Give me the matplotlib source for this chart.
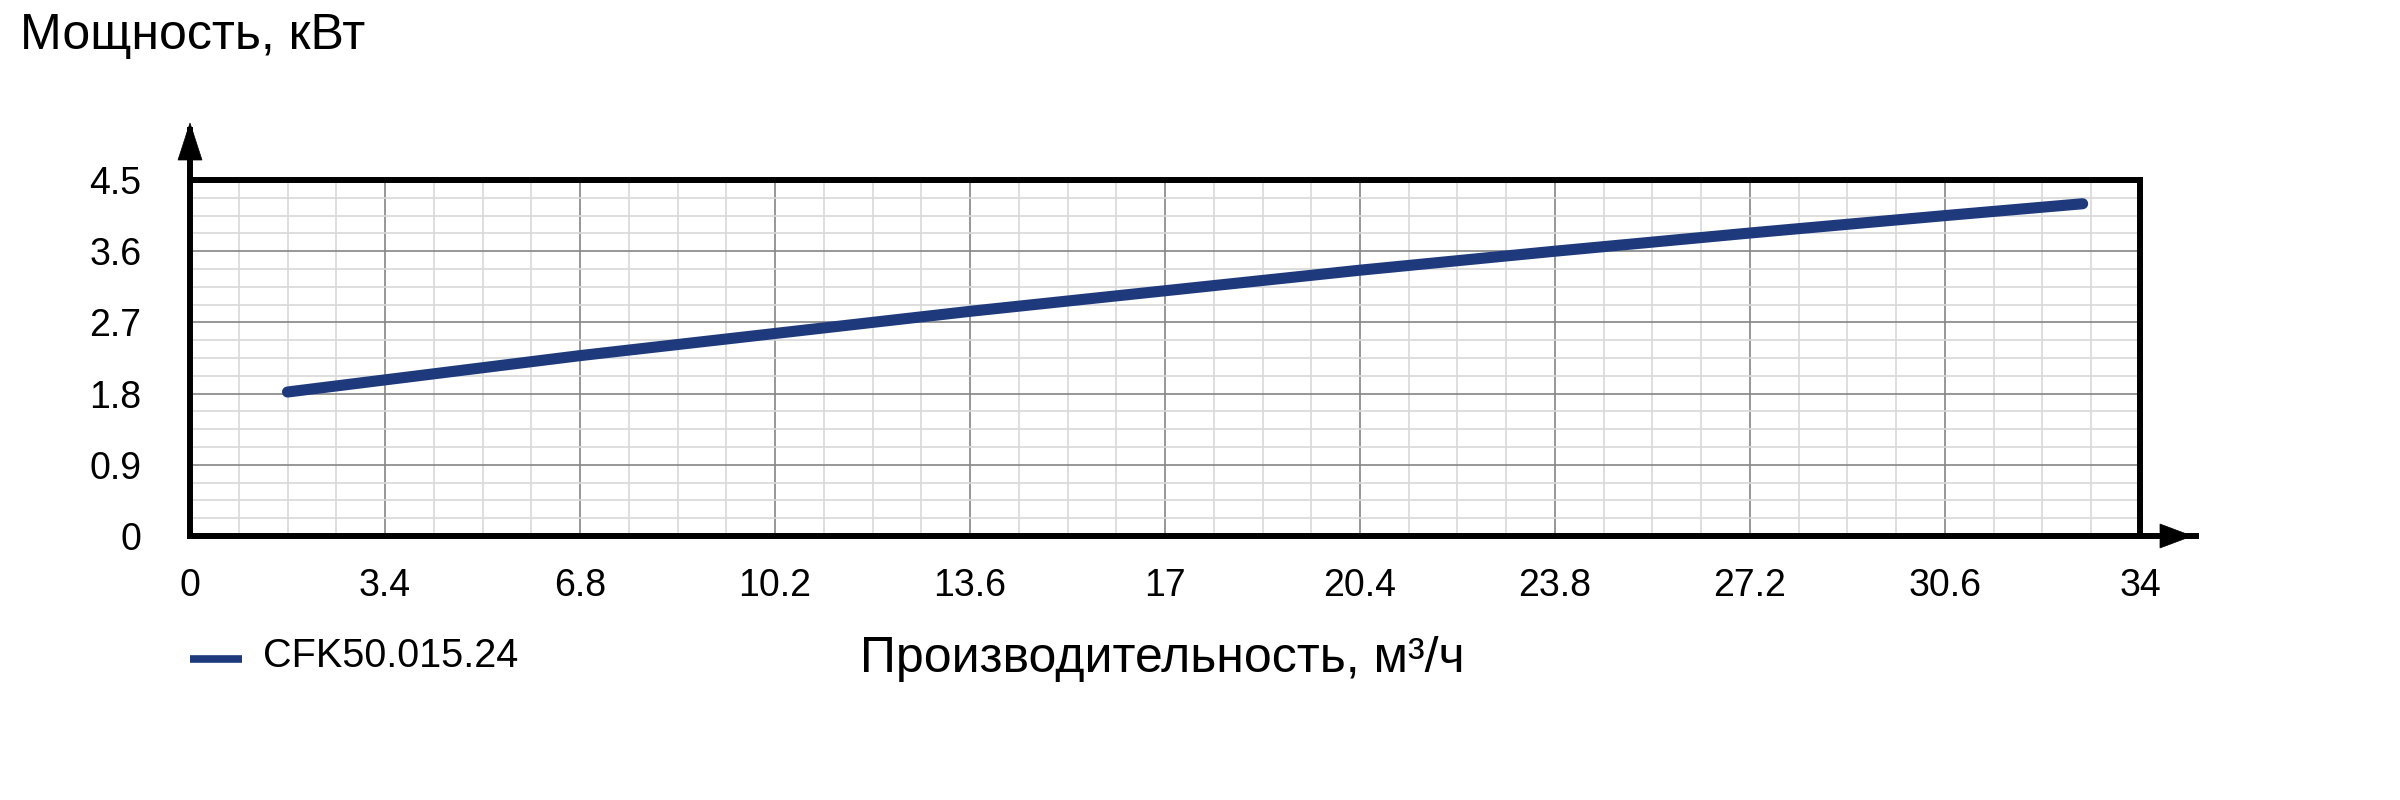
import matplotlib
matplotlib.use('Agg')
import matplotlib.pyplot as plt
from matplotlib.ticker import MultipleLocator
from matplotlib.lines import Line2D
from matplotlib.patches import Polygon

plt.rcParams['font.family'] = ['Liberation Sans', 'DejaVu Sans']

# data
flow = [1.7, 6.8, 10.2, 13.6, 17.0, 20.4, 23.8, 27.2, 30.6, 33.0]
power = [1.82, 2.28, 2.56, 2.84, 3.10, 3.36, 3.60, 3.83, 4.05, 4.20]
series_name = 'CFK50.015.24'

x_ticks = [0, 3.4, 6.8, 10.2, 13.6, 17, 20.4, 23.8, 27.2, 30.6, 34]
x_labels = ['0', '3.4', '6.8', '10.2', '13.6', '17', '20.4', '23.8', '27.2', '30.6', '34']
y_ticks = [0, 0.9, 1.8, 2.7, 3.6, 4.5]
y_labels = ['0', '0.9', '1.8', '2.7', '3.6', '4.5']

line_color = '#1f3a7c'
spine_w = 4.3
W, H = 2400, 800

fig = plt.figure(figsize=(24, 8), dpi=100)
ax = fig.add_axes([190 / W, 264 / H, 1950 / W, 356 / H])

ax.plot(flow, power, color=line_color, lw=8, solid_capstyle='round', zorder=5)

ax.set_xlim(0, 34)
ax.set_ylim(0, 4.5)
ax.set_xticks(x_ticks)
ax.set_xticklabels(x_labels)
ax.set_yticks(y_ticks)
ax.set_yticklabels(y_labels)
ax.xaxis.set_minor_locator(MultipleLocator(0.85))
ax.yaxis.set_minor_locator(MultipleLocator(0.225))
ax.tick_params(which='both', length=0)
ax.tick_params(axis='x', pad=23, labelsize=27)
ax.tick_params(axis='y', pad=35, labelsize=27)

ax.grid(which='major', color='#858585', lw=1.2)
ax.grid(which='minor', color='#d8d8d8', lw=1.2)
ax.set_axisbelow(True)

for s in ax.spines.values():
    s.set_linewidth(spine_w)
    s.set_color('black')

# axis arrows (figure pixel coordinates, origin top-left)
def px(x, y):
    return (x / W, 1 - y / H)

fig.add_artist(Line2D(*zip(px(190, 180), px(190, 130)), color='black', lw=spine_w))
fig.add_artist(Polygon([px(178, 160), px(202, 160), px(190, 123)], closed=True,
                       facecolor='black', edgecolor='black', lw=0.5))
fig.add_artist(Line2D(*zip(px(2140, 536), px(2196, 536)), color='black', lw=spine_w))
fig.add_artist(Polygon([px(2160, 524), px(2160, 548), px(2192, 536)], closed=True,
                       facecolor='black', edgecolor='black', lw=0.5))

fig.text(20 / W, 1 - 49 / H, 'Мощность, кВт', fontsize=36, va='baseline', ha='left')
fig.text(860 / W, 1 - 672 / H, 'Производительность, м³/ч', fontsize=36,
         va='baseline', ha='left')

# legend
fig.add_artist(Line2D(*zip(px(190, 659), px(242, 659)),
                      color=line_color, lw=5.5, solid_capstyle='butt'))
fig.text(263 / W, 1 - 667 / H, series_name, fontsize=28.5, va='baseline', ha='left')

fig.savefig('out.png', dpi=100, facecolor='white')
